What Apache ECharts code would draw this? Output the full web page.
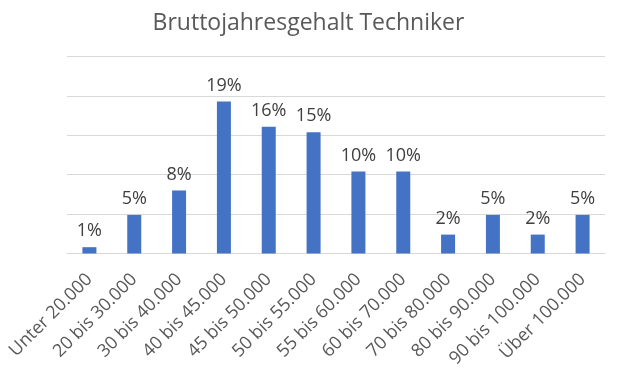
<!DOCTYPE html>
<html>
<head>
<meta charset="utf-8">
<script src="https://cdn.jsdelivr.net/npm/echarts@6/dist/echarts.min.js"></script>
<style>html,body{margin:0;padding:0;background:#fff}#c{width:617px;height:379px}</style>
</head>
<body>
<div id="c"></div>
<script>
const titleText = 'Bruttojahresgehalt Techniker';
const categories = ['Unter 20.000','20 bis 30.000','30 bis 40.000','40 bis 45.000','45 bis 50.000','50 bis 55.000','55 bis 60.000','60 bis 70.000','70 bis 80.000','80 bis 90.000','90 bis 100.000','Über 100.000'];
const values = [0.8, 4.9, 8.0, 19.3, 16.1, 15.4, 10.4, 10.4, 2.4, 4.9, 2.4, 4.9];
const yTicks = [0, 5, 10, 15, 20, 25];

const chart = echarts.init(document.getElementById('c'), null, {renderer: 'canvas'});
chart.setOption({
  animation: false,
  textStyle: {fontFamily: 'Open Sans'},
  title: {
    text: titleText, left: 'center', top: 7,
    textStyle: {fontFamily: 'Open Sans', fontSize: 23, fontWeight: 'normal', color: '#595959'}
  },
  grid: {left: 67, right: 12, top: 56.5, bottom: 125.5, containLabel: false},
  xAxis: {
    type: 'category', data: categories,
    axisLine: {lineStyle: {color: '#d9d9d9', width: 1}},
    axisTick: {show: false},
    axisLabel: {rotate: 45, interval: 0, margin: 23, fontSize: 18, color: '#595959', fontFamily: 'Open Sans'}
  },
  yAxis: {
    type: 'value', min: yTicks[0], max: yTicks[yTicks.length - 1], interval: 5,
    axisLabel: {show: false}, axisLine: {show: false}, axisTick: {show: false},
    splitLine: {lineStyle: {color: '#d9d9d9', width: 1}}
  },
  series: [{
    type: 'bar', data: values, barWidth: 14,
    itemStyle: {color: '#4472c4'},
    label: {show: true, position: 'top', distance: 7, fontSize: 18, color: '#404040', fontFamily: 'Open Sans',
      formatter: p => Math.round(p.value) + '%'}
  }]
});
</script>
</body>
</html>
